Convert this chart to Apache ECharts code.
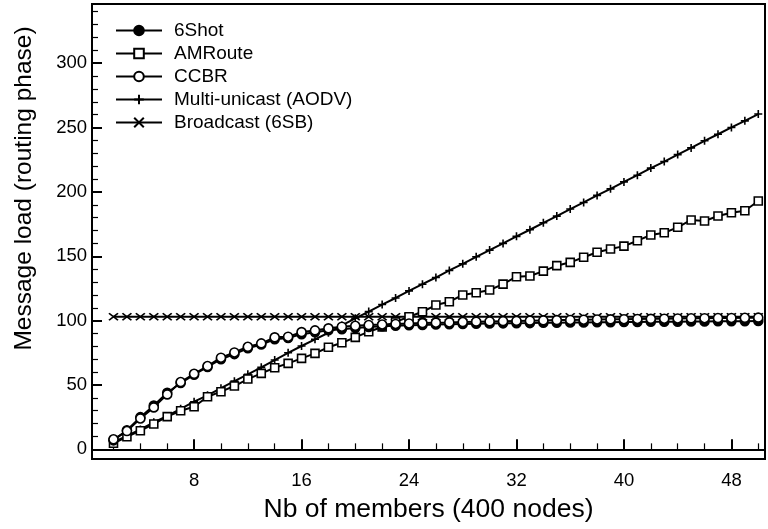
<!DOCTYPE html>
<html>
<head>
<meta charset="utf-8">
<script src="https://cdn.jsdelivr.net/npm/echarts@6/dist/echarts.min.js"></script>
<style>
  html, body { margin: 0; padding: 0; background: #fff; }
  #chart { width: 768px; height: 529px; }
</style>
</head>
<body>
<div id="chart"></div>
<script>
// Group sizes (number of multicast members)
var members = [2,3,4,5,6,7,8,9,10,11,12,13,14,15,16,17,18,19,20,21,22,23,24,25,26,
  27,28,29,30,31,32,33,34,35,36,37,38,39,40,41,42,43,44,45,46,47,48,49,50];

// Message load of each protocol, one value per group size
var sixShot = [7,14.8,25,34,44,51.5,58,64,70,74,78.5,81.5,85.5,86.5,89.5,91,92.5,93.3,94.2,
  95,95.6,96,96.4,96.7,97,97.2,97.4,97.6,97.8,97.9,98,98.1,98.3,98.4,98.5,98.6,98.7,
  98.8,98.9,99,99.1,99.2,99.2,99.3,99.4,99.5,99.5,99.6,99.7];
var amRoute = [4.7,9.8,14.5,19.7,25.4,30,33.1,40.9,44.8,49.2,54.6,59,63.4,66.8,70.7,74.6,
  79.3,82.8,87,91.4,95,99,103,106.9,112.1,114.7,119.9,121.7,123.8,128.4,134.1,134.7,138.5,
  142.7,145.3,149.2,153.1,155.6,157.9,162.1,166.5,168.3,172.5,178.2,177.4,181.3,183.8,
  185.4,192.9];
var ccbr = [7.8,14.2,24,32.6,42.7,52.3,58.7,64.7,71.2,75.3,79.7,82.3,87,87.5,91.1,92.4,94,
  95.3,96,96.6,97,97.4,97.8,98.1,98.4,98.6,98.9,99.2,99.4,99.6,99.8,100,100.2,100.4,100.5,
  100.7,100.9,101,101.1,101.3,101.4,101.5,101.7,101.8,101.9,102,102.1,102.2,102.3];
var multiUnicast = [5.5,10.5,15.5,21,26,31.5,37,42,47.5,53,58.3,63.7,69.4,75,80.3,85.5,
  90.6,96.3,101.8,107,112.5,117.6,123.1,128.3,133.5,139,144.1,149.6,154.8,160,165.5,
  170.6,176,181.2,186.7,191.8,197.3,202.4,207.8,213,218.5,223.6,229,234.2,239.7,244.8,
  250.1,255.2,260.5];
var broadcast = [103,103,103,103,103,103,103,103,103,103,103,103,103,103,103,103,103,103,
  103,103,103,103,103,103,103,103,103,103,103,103,103,103,103,103,103,103,103,103,103,
  103,103,103,103,103,103,103,103,103,103];

var seriesNames = ['6Shot', 'AMRoute', 'CCBR', 'Multi-unicast (AODV)', 'Broadcast (6SB)'];

// Axis ticks
var xMajorTicks = [8, 16, 24, 32, 40, 48];
var xMinorTicks = [2,4,6,10,12,14,18,20,22,26,28,30,34,36,38,42,44,46,50];
var yMajorTicks = [0, 50, 100, 150, 200, 250, 300];
var yMinorTicks = [10,20,30,40,60,70,80,90,110,120,130,140,160,170,180,190,210,220,230,
  240,260,270,280,290,310,320,330,340];

var FONT = '"Liberation Sans", Arial, Helvetica, sans-serif';
var X_MIN = 0.4, X_MAX = 50.5, Y_MIN = -7.5, Y_MAX = 346;

function pairs(vals) {
  return members.map(function (m, i) { return [m, vals[i]]; });
}

var PLUS = 'path://M5,0L5,10M0,5L10,5';
var CROSS = 'path://M0,0L10,10M10,0L0,10';

function lineSeries(name, vals, symbol, size, fill, z) {
  return {
    name: name,
    type: 'line',
    data: pairs(vals),
    symbol: symbol,
    symbolSize: size,
    showAllSymbol: true,
    z: z,
    lineStyle: { color: '#000', width: 2 },
    itemStyle: { color: fill, borderColor: '#000', borderWidth: 1.6 },
    emphasis: { disabled: true },
    animation: false
  };
}

var chart = echarts.init(document.getElementById('chart'), null, { renderer: 'canvas' });

function xAxisBase(ticks, len, labels) {
  return {
    type: 'value', min: X_MIN, max: X_MAX, position: 'bottom',
    axisLine: { show: true, lineStyle: { color: '#000', width: 2 } },
    axisTick: { show: true, inside: true, length: len, customValues: ticks,
      lineStyle: { color: '#000', width: len > 6 ? 2 : 1.2 } },
    axisLabel: labels ? { show: true, customValues: ticks, color: '#000',
      fontFamily: FONT, fontSize: 18.5, margin: 12 } : { show: false },
    splitLine: { show: false }
  };
}
function yAxisBase(ticks, len, labels) {
  return {
    type: 'value', min: Y_MIN, max: Y_MAX, position: 'left',
    axisLine: { show: true, lineStyle: { color: '#000', width: 2 } },
    axisTick: { show: true, inside: true, length: len, customValues: ticks,
      lineStyle: { color: '#000', width: len > 6 ? 2 : 1.2 } },
    axisLabel: labels ? { show: true, customValues: ticks, color: '#000',
      fontFamily: FONT, fontSize: 18.5, margin: 5 } : { show: false },
    splitLine: { show: false }
  };
}

var xMain = xAxisBase(xMajorTicks, 10, true);
xMain.name = 'Nb of members (400 nodes)';
xMain.nameLocation = 'middle';
xMain.nameGap = 37;
xMain.nameTextStyle = { color: '#000', fontFamily: FONT, fontSize: 26.5 };

var yMain = yAxisBase(yMajorTicks, 10, true);
yMain.name = 'Message load (routing phase)';
yMain.nameLocation = 'middle';
yMain.nameGap = 55;
// extra left padding lifts the rotated title above the axis centre
yMain.nameTextStyle = { color: '#000', fontFamily: FONT, fontSize: 24.5,
  padding: [0, 0, 0, 86] };

chart.setOption({
  backgroundColor: '#fff',
  animation: false,
  grid: { left: 92, top: 4, width: 673, height: 455, show: true,
    borderColor: '#000', borderWidth: 2, containLabel: false },
  legend: {
    orient: 'vertical', left: 110, top: 16,
    itemWidth: 46, itemHeight: 12, itemGap: 4,
    textStyle: { color: '#000', fontFamily: FONT, fontSize: 19, lineHeight: 18,
      padding: [0, 0, 0, 7] },
    data: seriesNames,
    selectedMode: false
  },
  xAxis: [xMain, xAxisBase(xMinorTicks, 6, false)],
  yAxis: [yMain, yAxisBase(yMinorTicks, 6, false)],
  series: [
    lineSeries(seriesNames[0], sixShot, 'circle', 9, '#000', 4),
    lineSeries(seriesNames[1], amRoute, 'rect', 8, '#fff', 3),
    lineSeries(seriesNames[2], ccbr, 'circle', 9, '#fff', 5),
    lineSeries(seriesNames[3], multiUnicast, PLUS, 8, 'none', 2),
    lineSeries(seriesNames[4], broadcast, CROSS, [9, 7], 'none', 1)
  ]
});
</script>
</body>
</html>
